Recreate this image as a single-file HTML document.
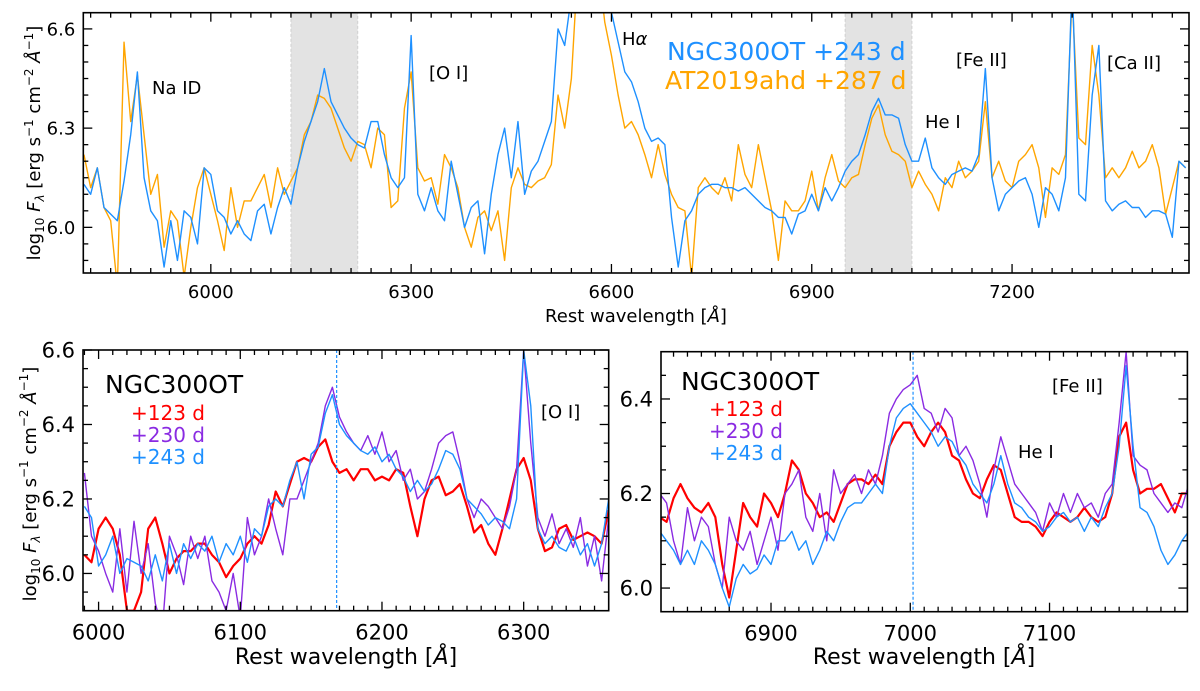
<!DOCTYPE html>
<html><head><meta charset="utf-8"><style>
html,body{margin:0;padding:0;background:#fff;}
svg text{font-family:"DejaVu Sans","Liberation Sans",sans-serif;}
</style></head><body>
<svg id="fig" width="1200" height="686" viewBox="0 0 1200 686" xmlns="http://www.w3.org/2000/svg"></svg>
<script>
// ---- Top panel data (10 Å step from 5810) ----
const topStart = 5810, topStep = 10;
const topBlue = [6.13,6.10,6.18,6.06,6.04,6.02,6.14,6.28,6.47,6.15,6.05,6.02,5.88,6.02,5.90,6.05,6.03,5.95,6.18,6.16,
6.05,6.03,5.98,6.02,5.98,5.96,6.05,6.07,5.98,6.06,6.12,6.07,6.18,6.26,6.32,6.38,6.48,6.38,6.34,6.30,
6.27,6.25,6.24,6.32,6.32,6.22,6.15,6.12,6.15,6.58,6.10,6.05,6.12,6.05,6.02,6.20,6.10,6.00,6.06,6.08,
5.92,6.10,6.22,6.30,6.15,6.32,6.10,6.17,6.20,6.26,6.32,6.60,6.55,6.70,6.90,7.00,7.00,6.90,6.75,6.65,
6.56,6.47,6.44,6.38,6.30,6.26,6.27,6.25,6.03,5.88,6.02,6.05,6.10,6.12,6.13,6.13,6.12,6.12,6.11,6.12,
6.10,6.08,6.06,6.05,6.03,6.03,5.98,6.04,6.05,6.10,6.05,6.12,6.08,6.12,6.17,6.20,6.22,6.28,6.35,6.39,
6.34,6.34,6.33,6.25,6.20,6.20,6.27,6.18,6.15,6.13,6.16,6.17,6.18,6.17,6.22,6.48,6.15,6.05,6.10,6.12,
6.14,6.15,6.10,6.00,6.12,6.10,6.05,6.15,6.75,6.10,6.08,6.40,6.55,6.08,6.05,6.07,6.08,6.06,6.06,6.03,
6.05,6.05,6.04,5.97,6.20,6.18];
const topOrange = [6.22,6.12,6.18,6.06,6.02,5.82,6.56,6.32,6.46,6.28,6.10,6.16,5.94,6.05,6.02,5.85,6.00,6.12,6.18,6.10,
6.02,5.93,6.12,6.00,6.08,6.08,6.12,6.16,6.06,6.18,6.10,6.14,6.18,6.28,6.32,6.40,6.39,6.36,6.30,6.24,
6.20,6.26,6.25,6.18,6.30,6.28,6.06,6.08,6.36,6.47,6.18,6.14,6.15,6.07,6.22,6.18,6.12,6.00,5.94,6.03,
6.05,5.99,6.05,5.90,6.12,6.18,6.13,6.12,6.14,6.15,6.19,6.40,6.30,6.45,6.80,6.90,6.90,6.80,6.62,6.52,
6.40,6.30,6.32,6.28,6.22,6.15,6.25,6.16,6.10,6.06,6.05,5.85,6.12,6.15,6.12,6.10,6.15,6.08,6.25,6.16,
6.12,6.25,6.15,6.05,5.90,6.08,6.05,6.05,6.08,6.17,6.05,6.15,6.22,6.14,6.12,6.15,6.16,6.25,6.33,6.37,
6.28,6.23,6.22,6.20,6.12,6.17,6.13,6.10,6.05,6.15,6.12,6.20,6.15,6.17,6.20,6.38,6.15,6.20,6.14,6.12,
6.20,6.22,6.25,6.18,6.03,6.18,6.16,6.22,6.70,6.27,6.25,6.55,6.40,6.15,6.18,6.15,6.18,6.23,6.18,6.20,
6.25,6.18,6.04,6.12,6.20,6.18];
const topXTicks = [6000,6300,6600,6900,7200];
const topYTicks = [6.0,6.3,6.6];
const bands = [[6120,6220],[6950,7050]];

// ---- Bottom-left data (5 Å step from 5990) ----
const blStart = 5990, blStep = 5;
const blRed = [6.05,6.03,6.12,6.15,6.12,6.05,5.90,5.90,5.95,6.12,6.15,6.08,6.00,6.04,6.06,6.06,6.08,6.08,6.05,6.03,
5.99,6.02,6.04,6.08,6.10,6.08,6.13,6.22,6.18,6.24,6.30,6.31,6.30,6.34,6.36,6.30,6.27,6.28,6.25,6.28,
6.28,6.25,6.26,6.25,6.28,6.27,6.18,6.10,6.20,6.25,6.26,6.21,6.22,6.24,6.18,6.11,6.13,6.08,6.05,6.12,
6.20,6.28,6.31,6.25,6.12,6.06,6.07,6.12,6.13,6.09,6.10,6.11,6.10,6.08,6.17];
const blPurple = [6.27,6.10,6.06,6.00,5.95,6.12,5.95,6.14,6.00,6.08,5.92,5.85,6.10,6.05,5.97,6.10,6.04,6.10,5.98,5.95,
5.90,6.00,5.88,6.15,6.05,6.10,6.20,6.12,6.05,6.20,6.20,6.25,6.30,6.35,6.45,6.50,6.42,6.38,6.35,6.33,
6.37,6.32,6.38,6.30,6.33,6.25,6.28,6.20,6.22,6.28,6.35,6.37,6.38,6.30,6.20,6.15,6.20,6.18,6.15,6.12,
6.18,6.28,6.60,6.35,6.15,6.10,6.16,6.08,6.12,6.07,6.15,6.02,6.10,5.98,6.15];
const blBlue = [6.18,6.15,6.02,6.05,6.10,6.00,6.04,6.03,6.02,5.98,6.05,5.98,6.08,6.00,6.08,6.04,6.08,6.06,6.10,6.03,
6.08,6.05,6.10,6.03,6.12,6.10,6.18,6.20,6.18,6.25,6.30,6.20,6.32,6.34,6.43,6.48,6.40,6.37,6.35,6.33,
6.32,6.34,6.30,6.32,6.28,6.26,6.22,6.25,6.22,6.24,6.28,6.33,6.32,6.28,6.20,6.18,6.16,6.13,6.15,6.14,
6.12,6.20,6.60,6.45,6.12,6.08,6.10,6.07,6.06,6.10,6.05,6.08,6.02,6.08,6.20];
const blXTicks = [6000,6100,6200,6300];
const blYTicks = [6.0,6.2,6.4,6.6];

// ---- Bottom-right data (5 Å step from 6820) ----
const brStart = 6820, brStep = 5;
const brRed = [6.15,6.14,6.19,6.22,6.19,6.17,6.16,6.18,6.15,6.05,5.98,6.08,6.18,6.15,6.13,6.20,6.18,6.15,6.20,6.27,
6.25,6.20,6.18,6.15,6.16,6.14,6.18,6.22,6.23,6.23,6.22,6.24,6.22,6.30,6.33,6.35,6.35,6.32,6.30,6.33,
6.35,6.33,6.28,6.27,6.23,6.20,6.19,6.23,6.26,6.25,6.20,6.15,6.14,6.14,6.13,6.11,6.14,6.16,6.15,6.14,
6.15,6.17,6.15,6.14,6.15,6.20,6.32,6.35,6.25,6.20,6.21,6.21,6.22,6.19,6.16,6.20,6.20];
const brPurple = [6.20,6.18,6.10,6.05,6.17,6.10,6.15,6.13,6.05,6.00,6.15,6.10,6.08,6.12,6.05,6.10,6.15,6.08,6.20,6.22,
6.25,6.15,6.12,6.20,6.10,6.25,6.20,6.22,6.24,6.20,6.25,6.22,6.28,6.37,6.40,6.42,6.43,6.45,6.38,6.37,
6.33,6.38,6.36,6.28,6.30,6.27,6.22,6.15,6.25,6.32,6.27,6.22,6.20,6.18,6.16,6.12,6.18,6.15,6.20,6.16,
6.20,6.17,6.18,6.15,6.20,6.22,6.35,6.50,6.28,6.26,6.25,6.20,6.18,6.16,6.18,6.17,6.22];
const brBlue = [6.12,6.10,6.08,6.05,6.08,6.05,6.10,6.08,6.05,6.00,5.96,6.02,6.05,6.03,6.04,6.07,6.05,6.10,6.10,6.12,
6.08,6.10,6.05,6.08,6.12,6.10,6.14,6.17,6.18,6.18,6.20,6.22,6.20,6.30,6.36,6.38,6.39,6.37,6.35,6.33,
6.30,6.32,6.31,6.28,6.26,6.22,6.20,6.18,6.22,6.28,6.22,6.18,6.17,6.15,6.14,6.12,6.13,6.15,6.16,6.14,
6.15,6.12,6.15,6.13,6.17,6.20,6.30,6.47,6.30,6.17,6.16,6.13,6.08,6.05,6.07,6.10,6.12];
const brXTicks = [6900,7000,7100];
const brYTicks = [6.0,6.2,6.4];

const NS = "http://www.w3.org/2000/svg";
const svg = document.getElementById('fig');
function mk(tag, attrs, parent){
  const e = document.createElementNS(NS, tag);
  for (const k in attrs) e.setAttribute(k, attrs[k]);
  (parent||svg).appendChild(e);
  return e;
}
function axes(id, px0, px1, py0, py1, xmin, xmax, ymin, ymax){
  const sx = v => px0 + (v - xmin) / (xmax - xmin) * (px1 - px0);
  const sy = v => py1 - (v - ymin) / (ymax - ymin) * (py1 - py0);
  const g = mk('g', {});
  
  
  const cp = mk('clipPath', {id: id + '-clip'}, g);
  mk('rect', {x: px0, y: py0, width: px1 - px0, height: py1 - py0}, cp);
  return {sx, sy, g, px0, px1, py0, py1, xmin, xmax, ymin, ymax, id};
}
function ticks(ax, majX, minStepX, majY, minStepY, fs, xLabelDy){
  const {sx, sy, g, px0, px1, py0, py1} = ax;
  const tg = mk('g', {stroke: '#000', 'stroke-width': 1.3}, g);
  
  
  const start = Math.ceil(ax.xmin / minStepX) * minStepX;
  for (let v = start; v <= ax.xmax; v += minStepX) {
    const major = majX.some(m => Math.abs(m - v) < 1e-6);
    const L = major ? 9 : 5;
    const x = sx(v);
    mk('line', {x1: x, x2: x, y1: py1, y2: py1 - L}, tg);
    mk('line', {x1: x, x2: x, y1: py0, y2: py0 + L}, tg);
  }
  const ys = Math.ceil(ax.ymin / minStepY - 1e-6);
  for (let i = ys; i * minStepY <= ax.ymax + 1e-9; i++) {
    const v = i * minStepY;
    const major = majY.some(m => Math.abs(m - v) < 1e-6);
    const L = major ? 9 : 5;
    const y = sy(v);
    mk('line', {x1: px0, x2: px0 + L, y1: y, y2: y}, tg);
    mk('line', {x1: px1, x2: px1 - L, y1: y, y2: y}, tg);
  }
  majX.forEach(v => {
    const t = mk('text', {x: sx(v), y: py1 + xLabelDy, 'font-size': fs, 'text-anchor': 'middle'}, g);
    t.textContent = v;
    
    
  });
  majY.forEach(v => {
    const t = mk('text', {x: px0 - 8, y: sy(v) + fs * 0.36, 'font-size': fs, 'text-anchor': 'end'}, g);
    t.textContent = v.toFixed(1);
    
    
  });
}
function series(ax, start, step, vals, color, name, w){
  const pts = vals.map((v, i) => ax.sx(start + i * step).toFixed(2) + ',' + ax.sy(v).toFixed(2)).join(' ');
  const p = mk('polyline', {points: pts, fill: 'none', stroke: color, 'stroke-width': w || 1.4, 'clip-path': 'url(#' + ax.id + '-clip)', 'stroke-linejoin': 'round'}, ax.g);
  
  
}
function frame(ax){
  const r = mk('rect', {x: ax.px0, y: ax.py0, width: ax.px1 - ax.px0, height: ax.py1 - ax.py0, fill: 'none', stroke: '#000', 'stroke-width': 1.6}, ax.g);
  
  
}
function label(txt, x, y, fs, color, name, anchor, rot){
  const t = mk('text', {x: x, y: y, 'font-size': fs, fill: color || '#000', 'text-anchor': anchor || 'start'});
  if (rot) t.setAttribute('transform', 'rotate(-90 ' + x + ' ' + y + ')');
  t.innerHTML = txt;
  
  
  return t;
}
const BLUE = '#1e90ff', ORANGE = '#ffa500', RED = '#ff0000', PURPLE = '#8a2be2';

// Top panel
const topAx = axes('top', 83.3, 1189, 12.7, 273, 5809, 7465, 5.862, 6.649);
bands.forEach(b => {
  const r = mk('rect', {x: topAx.sx(b[0]), y: topAx.py0, width: topAx.sx(b[1]) - topAx.sx(b[0]), height: topAx.py1 - topAx.py0, fill: '#e3e3e3', stroke: '#d0d0d0', 'stroke-dasharray': '3,2'}, topAx.g);
  
  
});
series(topAx, topStart, topStep, topOrange, ORANGE, 'at2019ahd-spectrum', 1.4);
series(topAx, topStart, topStep, topBlue, BLUE, 'ngc300ot-spectrum', 1.4);
ticks(topAx, topXTicks, 30, topYTicks, 0.05, 18, 25);
frame(topAx);

// Bottom-left panel
const blAx = axes('bottom-left', 83, 608.7, 350, 610.7, 5989, 6360, 5.9, 6.6);
series(blAx, blStart, blStep, blRed, RED, 'spectrum-123d', 2.2);
series(blAx, blStart, blStep, blPurple, PURPLE, 'spectrum-230d', 1.4);
series(blAx, blStart, blStep, blBlue, BLUE, 'spectrum-243d', 1.4);
let d1 = mk('line', {x1: blAx.sx(6168), x2: blAx.sx(6168), y1: blAx.py0, y2: blAx.py1, stroke: BLUE, 'stroke-width': 1.2, 'stroke-dasharray': '3,2'}, blAx.g);


ticks(blAx, blXTicks, 10, blYTicks, 0.05, 21, 29);
frame(blAx);

// Bottom-right panel
const brAx = axes('bottom-right', 661, 1187.4, 351.7, 611.7, 6821, 7199, 5.95, 6.5);
series(brAx, brStart, brStep, brRed, RED, 'spectrum-123d', 2.2);
series(brAx, brStart, brStep, brPurple, PURPLE, 'spectrum-230d', 1.4);
series(brAx, brStart, brStep, brBlue, BLUE, 'spectrum-243d', 1.4);
let d2 = mk('line', {x1: brAx.sx(7002), x2: brAx.sx(7002), y1: brAx.py0, y2: brAx.py1, stroke: BLUE, 'stroke-width': 1.2, 'stroke-dasharray': '3,2'}, brAx.g);


ticks(brAx, brXTicks, 10, brYTicks, 0.05, 21, 29);
frame(brAx);

// Axis titles
label('Rest wavelength [<tspan font-style="italic">Å</tspan>]', 636, 322, 18, '#000', 'top-x-axis-title', 'middle');
label('Rest wavelength [<tspan font-style="italic">Å</tspan>]', 346, 664, 22, '#000', 'bottom-left-x-axis-title', 'middle');
label('Rest wavelength [<tspan font-style="italic">Å</tspan>]', 924, 664, 22, '#000', 'bottom-right-x-axis-title', 'middle');
label('log<tspan font-size="12" dy="4">10</tspan><tspan dy="-4" font-style="italic"> F</tspan><tspan font-size="12" dy="4" font-style="italic">λ</tspan><tspan dy="-4"> [erg s</tspan><tspan font-size="12" dy="-7">−1</tspan><tspan dy="7"> cm</tspan><tspan font-size="12" dy="-7">−2</tspan><tspan dy="7" font-style="italic"> Å</tspan><tspan font-size="12" dy="-7">−1</tspan><tspan dy="7">]</tspan>', 40, 143, 18, '#000', 'top-y-axis-title', 'middle', true);
label('log<tspan font-size="12" dy="4">10</tspan><tspan dy="-4" font-style="italic"> F</tspan><tspan font-size="12" dy="4" font-style="italic">λ</tspan><tspan dy="-4"> [erg s</tspan><tspan font-size="12" dy="-8">−1</tspan><tspan dy="8"> cm</tspan><tspan font-size="12" dy="-8">−2</tspan><tspan dy="8" font-style="italic"> Å</tspan><tspan font-size="12" dy="-8">−1</tspan><tspan dy="8">]</tspan>', 36, 484, 18, '#000', 'bottom-y-axis-title', 'middle', true);

// Top annotations
label('Na ID', 152, 94, 18, '#000', 'na-id-label');
label('[O I]', 429, 79, 18, '#000', 'o-i-label');
label('H<tspan font-style="italic">α</tspan>', 622, 45, 18, '#000', 'h-alpha-label');
label('NGC300OT +243 d', 667, 60, 25, BLUE, 'legend-ngc300ot');
label('AT2019ahd +287 d', 665, 89, 25, ORANGE, 'legend-at2019ahd');
label('[Fe II]', 956, 66, 18, '#000', 'fe-ii-label');
label('He I', 925, 128, 18, '#000', 'he-i-label');
label('[Ca II]', 1107, 69, 18, '#000', 'ca-ii-label');

// Bottom-left annotations
label('NGC300OT', 105, 393, 25, '#000', 'panel-title');
label('+123 d', 131, 420, 20, RED, 'legend-123d');
label('+230 d', 131, 442, 20, PURPLE, 'legend-230d');
label('+243 d', 131, 464, 20, BLUE, 'legend-243d');
label('[O I]', 541, 418, 18, '#000', 'o-i-label');

// Bottom-right annotations
label('NGC300OT', 681, 390, 25, '#000', 'panel-title');
label('+123 d', 709, 416, 20, RED, 'legend-123d');
label('+230 d', 709, 438, 20, PURPLE, 'legend-230d');
label('+243 d', 709, 460, 20, BLUE, 'legend-243d');
label('[Fe II]', 1052, 392, 18, '#000', 'fe-ii-label');
label('He I', 1018, 458, 18, '#000', 'he-i-label');
</script>
</body></html>
